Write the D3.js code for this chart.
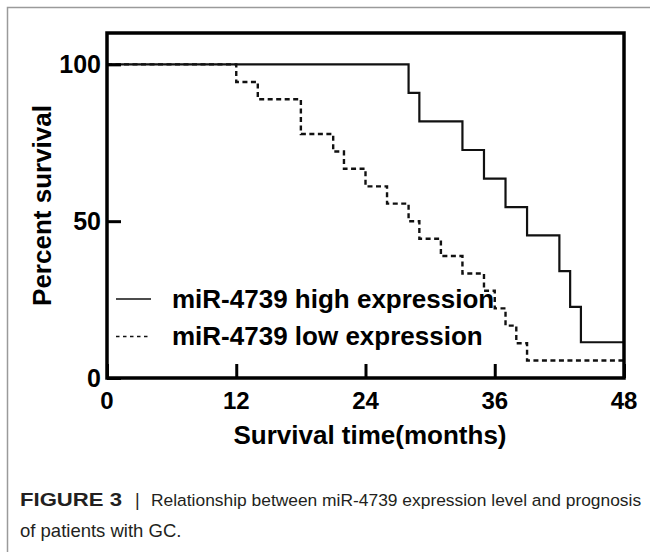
<!DOCTYPE html>
<html>
<head>
<meta charset="utf-8">
<script src="https://cdn.jsdelivr.net/npm/d3@7"></script>
<style>
  body { margin: 0; background: #fff; }
  svg { display: block; }
  .chart text { font-family: "Liberation Sans", Arial, sans-serif; font-weight: bold; fill: #000; }
  .caption { font-family: "Liberation Sans", Arial, sans-serif; fill: #231f20; }
</style>
</head>
<body>
<div id="chart"></div>
<script>
// Kaplan-Meier steps (months, percent survival)
var highTimes = [0, 28, 29, 33, 35, 37, 39, 42, 43, 44, 48];
var highSurv  = [100, 90.9, 81.8, 72.7, 63.6, 54.5, 45.5, 34.1, 22.7, 11.4, 11.4];

var lowTimes = [0, 12, 14, 18, 21, 22, 24, 26, 28, 29, 31, 33, 35, 36, 37, 38, 39, 48];
var lowSurv  = [100, 94.4, 88.9, 77.8, 72.2, 66.7, 61.1, 55.6, 50, 44.4, 38.9, 33.3, 27.8, 22.2, 16.7, 11.1, 5.6, 5.6];

var xTicks = [0, 12, 24, 36, 48];
var yTicks = [0, 50, 100];
var legendLabels = ["miR-4739 high expression", "miR-4739 low expression"];

var width = 650, height = 552;
var margin = {left: 107, right: 26, top: 33, bottom: 174};

var svg = d3.select("#chart").append("svg")
    .attr("width", width)
    .attr("height", height);

svg.append("rect")
    .attr("width", width).attr("height", height)
    .attr("fill", "#fff");

// outer figure frame (runs off the right and bottom edges)
svg.append("rect")
    .attr("x", 7.5).attr("y", 7.5)
    .attr("width", 700).attr("height", 600)
    .attr("fill", "none")
    .attr("stroke", "#9a9a9a")
    .attr("stroke-width", 1.5);

var x = d3.scaleLinear()
    .domain([0, 48])
    .range([margin.left, width - margin.right]);

var y = d3.scaleLinear()
    .domain([0, 110])
    .range([height - margin.bottom, margin.top]);

var g = svg.append("g").attr("class", "chart");

var stepLine = d3.line()
    .x(d => x(d[0]))
    .y(d => y(d[1]))
    .curve(d3.curveStepAfter);

var highData = highTimes.map((t, i) => [t, highSurv[i]]);
var lowData = lowTimes.map((t, i) => [t, lowSurv[i]]);

g.append("path")
    .datum(highData)
    .attr("d", stepLine)
    .attr("fill", "none")
    .attr("stroke", "#111")
    .attr("stroke-width", 2.2);

g.append("path")
    .datum(lowData)
    .attr("d", stepLine)
    .attr("fill", "none")
    .attr("stroke", "#111")
    .attr("stroke-width", 2.4)
    .attr("stroke-dasharray", "5,3.5");

// axes: ticks point inward, labels drawn separately
var xAxis = d3.axisTop(x).tickValues(xTicks).tickSize(14).tickFormat("");
var yAxis = d3.axisRight(y).tickValues(yTicks).tickSize(14).tickFormat("");

g.append("g")
    .attr("transform", "translate(0," + y(0) + ")")
    .call(xAxis)
    .call(a => a.select(".domain").remove())
    .selectAll("line").attr("stroke", "#000").attr("stroke-width", 3);

g.append("g")
    .attr("transform", "translate(" + x(0) + ",0)")
    .call(yAxis)
    .call(a => a.select(".domain").remove())
    .selectAll("line").attr("stroke", "#000").attr("stroke-width", 3);

// plot frame
g.append("rect")
    .attr("x", x(0)).attr("y", y(110))
    .attr("width", x(48) - x(0))
    .attr("height", y(0) - y(110))
    .attr("fill", "none")
    .attr("stroke", "#000")
    .attr("stroke-width", 3.5);

g.selectAll(".xlab")
    .data(xTicks)
    .enter().append("text")
    .attr("class", "xlab")
    .attr("x", d => x(d))
    .attr("y", 409)
    .attr("text-anchor", "middle")
    .style("font-size", "24px")
    .text(d => d);

g.selectAll(".ylab")
    .data(yTicks)
    .enter().append("text")
    .attr("class", "ylab")
    .attr("x", 101)
    .attr("y", d => y(d) + 9)
    .attr("text-anchor", "end")
    .style("font-size", "25px")
    .text(d => d);

g.append("text")
    .attr("x", 370)
    .attr("y", 444)
    .attr("text-anchor", "middle")
    .style("font-size", "26px")
    .text("Survival time(months)");

g.append("text")
    .attr("transform", "translate(51," + ((y(0) + y(110)) / 2) + ") rotate(-90)")
    .attr("text-anchor", "middle")
    .style("font-size", "26px")
    .text("Percent survival");

// legend
var legend = g.selectAll(".legend")
    .data(legendLabels)
    .enter().append("g")
    .attr("class", "legend")
    .attr("transform", (d, i) => "translate(0," + (299 + i * 37.5) + ")");

legend.append("line")
    .attr("x1", 116).attr("x2", 151)
    .attr("stroke", "#111")
    .attr("stroke-width", 1.6)
    .attr("stroke-dasharray", (d, i) => i === 0 ? null : "3.5,3.5");

legend.append("text")
    .attr("x", 172)
    .attr("y", 8.5)
    .style("font-size", "26px")
    .text(d => d);

// caption
svg.append("text")
    .attr("class", "caption")
    .attr("x", 20)
    .attr("y", 506)
    .attr("textLength", 102)
    .attr("lengthAdjust", "spacingAndGlyphs")
    .style("font-size", "18.5px")
    .style("font-weight", "bold")
    .text("FIGURE 3");

svg.append("text")
    .attr("class", "caption")
    .attr("x", 135)
    .attr("y", 506)
    .attr("fill", "#888")
    .style("font-size", "18px")
    .text("|");

svg.append("text")
    .attr("class", "caption")
    .attr("x", 151)
    .attr("y", 506)
    .style("font-size", "17.4px")
    .text("Relationship between miR-4739 expression level and prognosis");

svg.append("text")
    .attr("class", "caption")
    .attr("x", 20)
    .attr("y", 536.5)
    .style("font-size", "18.5px")
    .text("of patients with GC.");
</script>
</body>
</html>
